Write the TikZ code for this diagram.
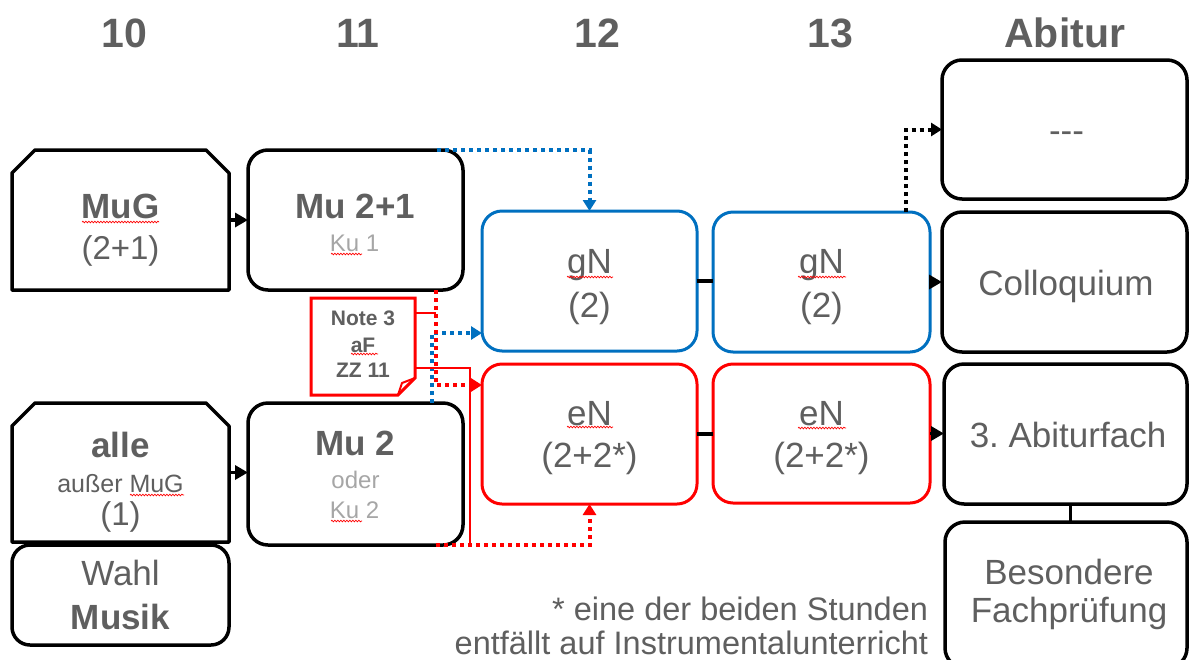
\documentclass[tikz,border=0pt]{standalone}
\usepackage{fontspec}
\setmainfont{Liberation Sans}
\usetikzlibrary{arrows.meta,decorations.pathmorphing,calc}
\definecolor{tg}{HTML}{5F5F5F}
\definecolor{lg}{HTML}{A6A6A6}
\definecolor{mb}{HTML}{0070C0}
\definecolor{mr}{HTML}{FF0000}
\frenchspacing
\begin{document}
\begin{tikzpicture}[x=1pt,y=-1pt,
  every node/.style={inner sep=0pt, outer sep=0pt},
  sz/.style 2 args={minimum width=#1, minimum height=#2},
  boxk/.style={draw=black, line width=3.5pt, rounded corners=20pt},
  boxb/.style={draw=mb, line width=3pt, rounded corners=20pt},
  boxr/.style={draw=mr, line width=3pt, rounded corners=20pt},
  ghost/.style={draw=none},
  chamf/.style={draw=black, line width=3.5pt, line join=round},
  tx/.style={text=tg, anchor=base},
  fH/.style={tx, font=\fontsize{41}{49}\selectfont\bfseries},
  fL/.style={tx, font=\fontsize{35}{42}\selectfont},
  fM/.style={tx, font=\fontsize{33}{40}\selectfont},
  fLb/.style={tx, font=\fontsize{35}{42}\selectfont\bfseries},
  fS/.style={tx, font=\fontsize{24}{29}\selectfont, text=lg},
  fA/.style={tx, font=\fontsize{25}{30}\selectfont},
  fN/.style={tx, font=\fontsize{21}{25}\selectfont\bfseries},
  fF/.style={text=tg, anchor=base east, font=\fontsize{32.5}{38}\selectfont},
  link/.style={draw=black, line width=3.5pt},
  arr/.style={-{Triangle[length=13pt 0 0,width=14pt 0 0]}},
  dotk/.style={line width=4pt, dash pattern=on 4pt off 4pt, -{Triangle[length=11pt 0 0,width=13pt 0 0]}},
  notelink/.style={draw=mr, line width=2pt},
  spell/.style={draw=mr, line width=0.7pt, decorate, decoration={snake, amplitude=0.8pt, segment length=3pt}}
]
\useasboundingbox (0,0) rectangle (1190,659);
\clip (0,0) rectangle (1190,659);
\fill[white] (0,0) rectangle (1190,659);

% headers
\node[fH] (h10) at (124.7,47) {10};
\node[fH] (h11) at (358,47) {11};
\node[fH] (h12) at (597,47) {12};
\node[fH] (h13) at (830,47) {13};
\node[fH] (habi) at (1064.7,47) {Abitur};

% column 10
\node[ghost, sz={217pt}{140pt}] (mug) at (120.5,220) {};
\draw[chamf] (mug.south west) -- ([yshift=-23pt]mug.north west) -- ([xshift=23pt]mug.north west)
  -- ([xshift=-23pt]mug.north east) -- ([yshift=-23pt]mug.north east) -- (mug.south east) -- cycle;
\node[ghost, sz={217pt}{139pt}] (alle) at (120.5,472.5) {};
\draw[chamf] (alle.south west) -- ([yshift=-23pt]alle.north west) -- ([xshift=23pt]alle.north west)
  -- ([xshift=-23pt]alle.north east) -- ([yshift=-23pt]alle.north east) -- (alle.south east) -- cycle;
\node[boxk, rounded corners=18pt, sz={217pt}{100pt}] (wahl) at (120.5,595) {};

% column 11
\node[boxk, sz={215pt}{140pt}] (mu21) at (355.5,220) {};
\node[boxk, sz={215pt}{142pt}] (mu2) at (355.5,474) {};

% column 12
\node[boxb, sz={215pt}{140pt}] (gn12) at (589.5,281) {};
\node[boxr, sz={215pt}{140pt}] (en12) at (589.5,434) {};

% column 13
\node[boxb, sz={217pt}{140pt}] (gn13) at (821.5,282) {};
\node[boxr, sz={217pt}{139pt}] (en13) at (821.5,433.5) {};

% Abitur column
\node[boxk, sz={245pt}{139pt}] (dash) at (1064.5,129.5) {};
\node[boxk, sz={245pt}{140pt}] (coll) at (1064.5,282) {};
\node[boxk, sz={243pt}{140pt}] (abi) at (1065.5,434) {};
\node[boxk, sz={242pt}{146pt}] (bes) at (1066,595) {};

% note
\node[ghost, sz={104pt}{97pt}] (note) at (363,346.5) {};
\draw[draw=mr, line width=3pt, line join=miter] (note.north west) -- (note.north east)
  -- ([yshift=17pt]note.south east) -- ([xshift=-17pt]note.south east) -- (note.south west) -- cycle;
\draw[draw=mr, line width=2pt, line join=round] ([xshift=-17pt]note.south east)
  -- ([xshift=-13pt,yshift=12pt]note.south east) -- ([yshift=17pt]note.south east);

% texts
\node[fLb] (tmug) at (120.5,218) {MuG};
\node[fM] (tmug2) at (120.5,259) {(2+1)};
\node[fLb] (talle) at (120.5,457) {alle};
\node[fA] (talle2) at (120.5,492) {außer MuG};
\node[fM] (talle3) at (120.5,525) {(1)};
\node[fL] (twahl) at (120.5,585) {Wahl};
\node[fLb] (twahl2) at (120.5,629) {Musik};

\node[fLb] (tmu21) at (355.5,218) {Mu 2+1};
\node[fS] (tmu21b) at (354.5,251) {Ku 1};
\node[fLb] (tmu2) at (355.5,455) {Mu 2};
\node[fS] (tmu2b) at (355.5,488) {oder};
\node[fS] (tmu2c) at (354.5,518) {Ku 2};

\node[fL] (tgn12) at (589.5,273) {gN};
\node[fL] (tgn12b) at (589.5,317) {(2)};
\node[fL] (ten12) at (589.5,425) {eN};
\node[fL] (ten12b) at (589.5,467) {(2+2*)};
\node[fL] (tgn13) at (821.5,273) {gN};
\node[fL] (tgn13b) at (821.5,317) {(2)};
\node[fL] (ten13) at (821.5,425) {eN};
\node[fL] (ten13b) at (821.5,467) {(2+2*)};

\node[fL] (tdash) at (1066.5,142) {-\kern0pt-\kern0pt-};
\node[fL] (tcoll) at (1066,295) {Colloquium};
\node[fL] (tabi) at (1068,447) {3. Abiturfach};
\node[fL] (tbes) at (1069,584) {Besondere};
\node[fL] (tbes2) at (1069,622) {Fachprüfung};

\node[fN] (tn1) at (363,325) {Note 3};
\node[fN] (tn2) at (363,352) {aF};
\node[fN] (tn3) at (363,377) {ZZ 11};

\node[fF] (tf1) at (928,620) {* eine der beiden Stunden};
\node[fF] (tf2) at (928,654) {entfällt auf Instrumentalunterricht};

% spell-check underlines
\draw[spell] (82,222) -- (159,222);
\draw[spell] (130,495) -- (184,495);
\draw[spell] (331,254) -- (362,254);
\draw[spell] (331,521) -- (362,521);
\draw[spell] (567,277) -- (613,277);
\draw[spell] (798,277) -- (846,277);
\draw[spell] (567,427) -- (613,427);
\draw[spell] (798,428) -- (846,428);
\draw[spell] (351,354) -- (378,354);

% connectors
\draw[link,arr] (mug.east) -- (mu21.west);
\draw[link,arr] (alle.east) -- (alle.east -| mu2.west);
\draw[link] (gn12.east) -- (gn12.east -| gn13.west);
\draw[link] (en12.east) -- (en12.east -| en13.west);
\draw[link,arr] (gn13.east) -- (gn13.east -| coll.west);
\draw[link,arr] (en13.east) -- (en13.east -| abi.west);
\draw[link, line width=3pt] ([xshift=5pt]abi.south) -- ([xshift=5pt]abi.south |- bes.north);

\draw[dotk, draw=black] ([xshift=84.5pt]gn13.north) |- (dash.west);
\draw[dotk, draw=mb] ([xshift=81.5pt]mu21.north) -| (gn12.north);
\draw[dotk, draw=mb] ([xshift=76.5pt]mu2.north) |- ([yshift=-52pt]gn12.west);
\draw[dotk, draw=mr] ([xshift=80.5pt]mu21.south) |- ([yshift=49pt]en12.west);
\draw[dotk, draw=mr] ([xshift=80.5pt]mu2.south) -| (en12.south);

\coordinate (j1) at (436,313);
\coordinate (j2) at (470,545);
\draw[notelink] ([yshift=-15pt]note.north east) -- (j1);
\draw[notelink] ([yshift=-70pt]note.north east) -| (j2);
\end{tikzpicture}
\end{document}
